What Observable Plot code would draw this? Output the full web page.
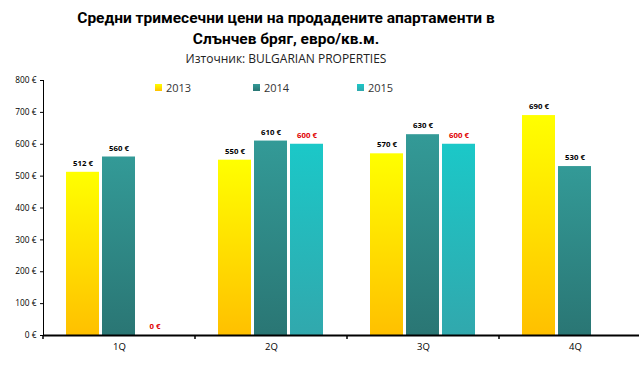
<!DOCTYPE html>
<html><head><meta charset="utf-8">
<script src="https://cdn.jsdelivr.net/npm/d3@7"></script>
<script src="https://cdn.jsdelivr.net/npm/@observablehq/plot@0.6"></script>
<style>
body{margin:0;background:#fff;}
#wrap{position:relative;width:639px;height:392px;overflow:hidden;font-family:"Open Sans",sans-serif;color:#000;}
#wrap svg{position:absolute;left:0;top:0;}
.title{position:absolute;left:0;width:572px;text-align:center;font-family:Roboto,sans-serif;font-weight:bold;font-size:15.5px;line-height:21px;top:8px;}
.sub{position:absolute;left:0;width:572px;text-align:center;font-size:12px;top:50px;color:#222;}
.leg{position:absolute;top:80px;font-size:11px;color:#333;white-space:nowrap;}
.leg i{display:inline-block;width:7px;height:7px;margin-right:4px;vertical-align:1px;}
svg [aria-label^="y-axis"] text{font-size:8.3px;}
svg [aria-label^="fx-axis"] text{font-size:9.5px;}
</style>
</head><body>
<div id="wrap">
  <div class="title">Средни тримесечни цени на продадените апартаменти в<br>Слънчев бряг, евро/кв.м.</div>
  <div class="sub">Източник: BULGARIAN PROPERTIES</div>
</div>
<script>
const quarters = ["1Q", "2Q", "3Q", "4Q"];
const years = ["2013", "2014", "2015"];
const v2013 = [512, 550, 570, 690];
const v2014 = [560, 610, 630, 530];
const v2015 = [0, 600, 600, null];
const yTicks = [0, 100, 200, 300, 400, 500, 600, 700, 800];

const grads = {
  "2013": ["#FFFF00", "#FFC000"],
  "2014": ["#339A97", "#2A7674"],
  "2015": ["#1BC8C8", "#31A8AD"]
};
const legendX = {"2013": 155, "2014": 253, "2015": 357};

const series = {"2013": v2013, "2014": v2014, "2015": v2015};
const rows = [];
quarters.forEach((q, i) => years.forEach(y => {
  const v = series[y][i];
  if (v !== null && v !== undefined) rows.push({quarter: q, year: y, value: v});
}));

const chart = Plot.plot({
  width: 639,
  height: 392,
  marginTop: 80,
  marginBottom: 57,
  marginLeft: 43,
  marginRight: 0,
  style: {background: "transparent", fontFamily: "'Open Sans', sans-serif", color: "#000", overflow: "visible"},
  facet: {data: rows, x: "quarter"},
  fx: {domain: quarters, range: [43, 651], padding: 0, axis: "bottom", label: null, tickSize: 0, tickPadding: 8},
  x: {domain: years, axis: null, range: [65, 173], paddingInner: 0.08, paddingOuter: 0},
  y: {domain: [0, 800], ticks: yTicks, tickFormat: d => d + " €", label: null, line: true, tickSize: 3, tickPadding: 4},
  color: {domain: years, range: years.map(y => `url(#g${y})`)},
  marks: [
    Plot.barY(rows, {x: "year", y: "value", fill: "year", inset: 0}),
    Plot.text(rows, {filter: d => d.year !== "2015", x: "year", y: "value", text: d => d.value + " €", dy: -9, fontWeight: "bold", fontSize: 7.8, fill: "#000"}),
    Plot.text(rows, {filter: d => d.year === "2015", x: "year", y: "value", text: d => d.value + " €", dy: -9, fontWeight: "bold", fontSize: 7.8, fill: "#E00000"}),
    Plot.ruleY([0], {stroke: "#000", strokeWidth: 2})
  ]
});

const svg = d3.select(chart);
const defs = svg.insert("defs", ":first-child");
years.forEach(y => {
  const g = defs.append("linearGradient").attr("id", "g" + y).attr("x1", 0).attr("y1", 0).attr("x2", 0).attr("y2", 1);
  g.append("stop").attr("offset", "0%").attr("stop-color", grads[y][0]);
  g.append("stop").attr("offset", "100%").attr("stop-color", grads[y][1]);
});
// boundary ticks under the baseline, from the fx scale
const fxs = chart.scale("fx");
const ys = chart.scale("y");
const y0 = ys.apply(0);
const bounds = quarters.map(q => fxs.apply(q));
svg.append("g").selectAll("line").data(bounds).join("line")
  .attr("x1", d => d).attr("x2", d => d)
  .attr("y1", y0).attr("y2", y0 + 4)
  .attr("stroke", "#000").attr("stroke-width", 1.5);

const wrap = document.getElementById("wrap");
wrap.insertBefore(chart, wrap.firstChild);
years.forEach(y => {
  const d = document.createElement("div");
  d.className = "leg";
  d.style.left = legendX[y] + "px";
  d.innerHTML = `<i style="background:linear-gradient(${grads[y][0]},${grads[y][1]})"></i>${y}`;
  wrap.appendChild(d);
});
</script>
</body></html>
